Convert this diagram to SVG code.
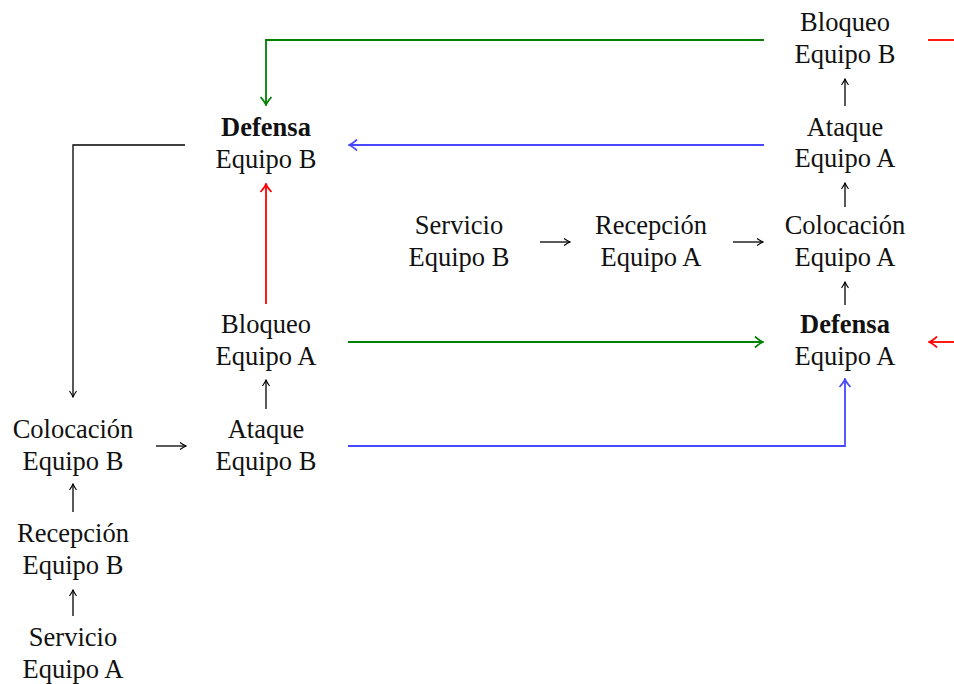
<svg xmlns="http://www.w3.org/2000/svg" width="954" height="684" viewBox="0 0 954 684">
<defs>
<style>
text{font-family:"Liberation Serif","Times New Roman",serif;font-size:26.5px;fill:#111;text-anchor:middle}
.b{font-weight:bold}
.k{stroke:#000;stroke-width:1.3;fill:none}
.r{stroke:#f00;stroke-width:1.8;fill:none}
.g{stroke:#008000;stroke-width:1.8;fill:none}
.u{stroke:#4848ff;stroke-width:1.8;fill:none}
</style>
<marker id="ak" viewBox="-6 -4 8 8" refX="1" refY="0" markerWidth="8" markerHeight="8" markerUnits="userSpaceOnUse" orient="auto"><path d="M-5,-3.5 Q-1,-0.8 1,0 Q-1,0.8 -5,3.5" fill="none" stroke="#000" stroke-width="1.1"/></marker>
<marker id="ar" viewBox="-8 -6 10 12" refX="1" refY="0" markerWidth="10" markerHeight="12" markerUnits="userSpaceOnUse" orient="auto"><path d="M-7,-5.5 Q-2,-1 1,0 Q-2,1 -7,5.5" fill="none" stroke="#f00" stroke-width="1.8"/></marker>
<marker id="ag" viewBox="-8 -6 10 12" refX="1" refY="0" markerWidth="10" markerHeight="12" markerUnits="userSpaceOnUse" orient="auto"><path d="M-7,-5.5 Q-2,-1 1,0 Q-2,1 -7,5.5" fill="none" stroke="#008000" stroke-width="1.8"/></marker>
<marker id="au" viewBox="-8 -6 10 12" refX="1" refY="0" markerWidth="10" markerHeight="12" markerUnits="userSpaceOnUse" orient="auto"><path d="M-7,-5.5 Q-2,-1 1,0 Q-2,1 -7,5.5" fill="none" stroke="#4848ff" stroke-width="1.8"/></marker>
</defs>
<rect width="954" height="684" fill="#fff"/>
<g id="connectors">
<path class="k" d="M845,106 V79" marker-end="url(#ak)"/>
<path class="k" d="M845,207 V183" marker-end="url(#ak)"/>
<path class="k" d="M845,305 V282" marker-end="url(#ak)"/>
<path class="k" d="M266,409 V380" marker-end="url(#ak)"/>
<path class="k" d="M73,616 V590" marker-end="url(#ak)"/>
<path class="k" d="M73,512 V484" marker-end="url(#ak)"/>
<path class="k" d="M540,242 H570" marker-end="url(#ak)"/>
<path class="k" d="M733,242 H763" marker-end="url(#ak)"/>
<path class="k" d="M156,446 H186" marker-end="url(#ak)"/>
<path class="k" d="M185,145 H73 V397" marker-end="url(#ak)"/>
<path class="r" d="M266,304 V184" marker-end="url(#ar)"/>
<path class="g" d="M764,40 H266 V105" marker-end="url(#ag)"/>
<path class="u" d="M764,145 H349" marker-end="url(#au)"/>
<path class="g" d="M348,342 H763" marker-end="url(#ag)"/>
<path class="u" d="M348,446 H845 V379" marker-end="url(#au)"/>
<path class="r" d="M928,40 H954"/>
<path class="r" d="M954,342 H929" marker-end="url(#ar)"/>
</g>
<g id="bloqueoB"><text x="845" y="31">Bloqueo</text><text x="845" y="63">Equipo B</text></g>
<g id="ataqueA"><text x="845" y="136">Ataque</text><text x="845" y="167">Equipo A</text></g>
<g id="colocacionA"><text x="845" y="234">Colocación</text><text x="845" y="266">Equipo A</text></g>
<g id="defensaA"><text class="b" x="845" y="333">Defensa</text><text x="845" y="365">Equipo A</text></g>
<g id="servicioB"><text x="459" y="234">Servicio</text><text x="459" y="266">Equipo B</text></g>
<g id="recepcionA"><text x="651" y="234">Recepción</text><text x="651" y="266">Equipo A</text></g>
<g id="defensaB"><text class="b" x="266" y="136">Defensa</text><text x="266" y="168">Equipo B</text></g>
<g id="bloqueoA"><text x="266" y="333">Bloqueo</text><text x="266" y="365">Equipo A</text></g>
<g id="ataqueB"><text x="266" y="438">Ataque</text><text x="266" y="470">Equipo B</text></g>
<g id="colocacionB"><text x="73" y="438">Colocación</text><text x="73" y="470">Equipo B</text></g>
<g id="recepcionB"><text x="73" y="542">Recepción</text><text x="73" y="574">Equipo B</text></g>
<g id="servicioA"><text x="73" y="646">Servicio</text><text x="73" y="678">Equipo A</text></g>
</svg>
